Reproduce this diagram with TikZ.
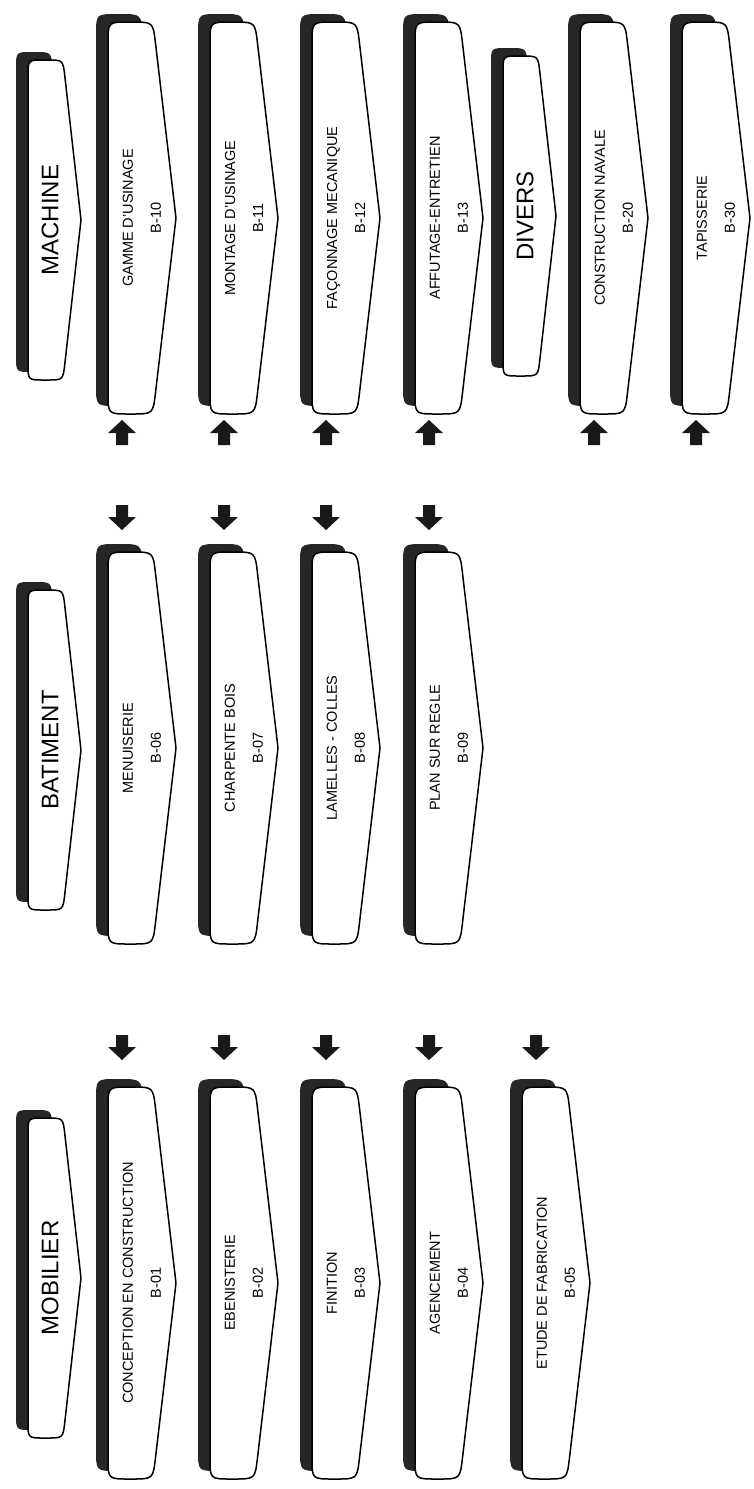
\documentclass[tikz,border=0pt]{standalone}
\usepackage{fontspec}
\setmainfont{Liberation Sans}
\tikzset{
  tagline/.style={draw=black, line width=1.5pt, fill=white, line join=round},
  tagshadow/.style={fill=black!85},
  itemtext/.style={rotate=90, align=center, font=\fontsize{14.5}{28}\selectfont, inner sep=0pt},
  headtext/.style={rotate=90, font=\fontsize{24}{28}\selectfont, inner sep=0pt},
  blockarrow/.style={fill=black!90},
}
% #1 name, #2 xL, #3 yM, #4 half length, #5 base width, #6 V width, #7 radius
\newcommand{\tagshape}[7]{%
  \pgfmathsetmacro\tXa{#2}%
  \pgfmathsetmacro\tXb{#2+#5}%
  \pgfmathsetmacro\tXc{#2+#5+#6}%
  \pgfmathsetmacro\tYa{#3-#4}%
  \pgfmathsetmacro\tYb{#3+#4}%
  \pgfmathsetmacro\tS{#7*#6/#4}%
  \pgfmathsetmacro\tR{#7}%
  \def\tpath{(\tXa,\tYa+\tR) .. controls (\tXa,\tYa) .. (\tXa+\tR,\tYa) -- (\tXb-\tR,\tYa) .. controls (\tXb,\tYa) .. (\tXb+\tS,\tYa+\tR) -- (\tXc,#3) -- (\tXb+\tS,\tYb-\tR) .. controls (\tXb,\tYb) .. (\tXb-\tR,\tYb) -- (\tXa+\tR,\tYb) .. controls (\tXa,\tYb) .. (\tXa,\tYb-\tR) -- cycle}%
  \fill[tagshadow, shift={(-12,-8)}] \tpath;
  \draw[tagline] \tpath;
  \coordinate (#1) at (\tXa,#3);
}
% #1 name, #2 xL, #3 yM, #4 line 1, #5 line 2
\newcommand{\itembox}[5]{%
  \tagshape{#1-s}{#2}{#3}{196}{45}{23}{21}
  \node[itemtext] (#1) at (#2+34,#3) {#4\\#5};
}
% #1 name, #2 xL, #3 yM, #4 text
\newcommand{\headbox}[4]{%
  \tagshape{#1-s}{#2}{#3}{160}{35}{18}{16}
  \node[headtext] (#1) at (#2+22,#3) {#4};
}
% #1 name, #2 cx, #3 cy (head base)
\newcommand{\arrowdn}[3]{%
  \coordinate (#1) at (#2,#3);
  \fill[blockarrow] ([shift={(-6,-12)}]#1) -- ([shift={(6,-12)}]#1) -- ([shift={(6,0)}]#1) -- ([shift={(14,0)}]#1) -- ([shift={(0,13)}]#1) -- ([shift={(-14,0)}]#1) -- ([shift={(-6,0)}]#1) -- cycle;
}
\newcommand{\arrowup}[3]{%
  \coordinate (#1) at (#2,#3);
  \fill[blockarrow] ([shift={(-6,12)}]#1) -- ([shift={(6,12)}]#1) -- ([shift={(6,0)}]#1) -- ([shift={(14,0)}]#1) -- ([shift={(0,-13)}]#1) -- ([shift={(-14,0)}]#1) -- ([shift={(-6,0)}]#1) -- cycle;
}
\begin{document}
\begin{tikzpicture}[x=1pt,y=-1pt]
\fill[white] (0,0) rectangle (753,1489);
\useasboundingbox (0,0) rectangle (753,1489);

% MACHINE column
\headbox{machine}{28}{220}{MACHINE}
\itembox{b10}{108}{218}{GAMME D'USINAGE}{B-10}
\itembox{b11}{210}{218}{MONTAGE D'USINAGE}{B-11}
\itembox{b12}{312}{218}{FAÇONNAGE MECANIQUE}{B-12}
\itembox{b13}{415}{218}{AFFUTAGE-ENTRETIEN}{B-13}
\headbox{divers}{503}{216}{DIVERS}
\itembox{b20}{580}{218}{CONSTRUCTION NAVALE}{B-20}
\itembox{b30}{682}{218}{TAPISSERIE}{B-30}
\arrowup{a10}{122}{433}
\arrowup{a11}{224}{433}
\arrowup{a12}{326}{433}
\arrowup{a13}{429}{433}
\arrowup{a20}{594}{433}
\arrowup{a30}{696}{433}

% BATIMENT column
\headbox{batiment}{28}{750}{BATIMENT}
\itembox{b06}{108}{748}{MENUISERIE}{B-06}
\itembox{b07}{210}{748}{CHARPENTE BOIS}{B-07}
\itembox{b08}{312}{748}{LAMELLES - COLLES}{B-08}
\itembox{b09}{415}{748}{PLAN SUR REGLE}{B-09}
\arrowdn{a06}{122}{517}
\arrowdn{a07}{224}{517}
\arrowdn{a08}{326}{517}
\arrowdn{a09}{429}{517}

% MOBILIER column
\headbox{mobilier}{28}{1278}{MOBILIER}
\itembox{b01}{108}{1283}{CONCEPTION EN CONSTRUCTION}{B-01}
\itembox{b02}{210}{1283}{EBENISTERIE}{B-02}
\itembox{b03}{312}{1283}{FINITION}{B-03}
\itembox{b04}{415}{1283}{AGENCEMENT}{B-04}
\itembox{b05}{522}{1283}{ETUDE DE FABRICATION}{B-05}
\arrowdn{a01}{122}{1047}
\arrowdn{a02}{224}{1047}
\arrowdn{a03}{326}{1047}
\arrowdn{a04}{429}{1047}
\arrowdn{a05}{536}{1047}
\end{tikzpicture}
\end{document}
